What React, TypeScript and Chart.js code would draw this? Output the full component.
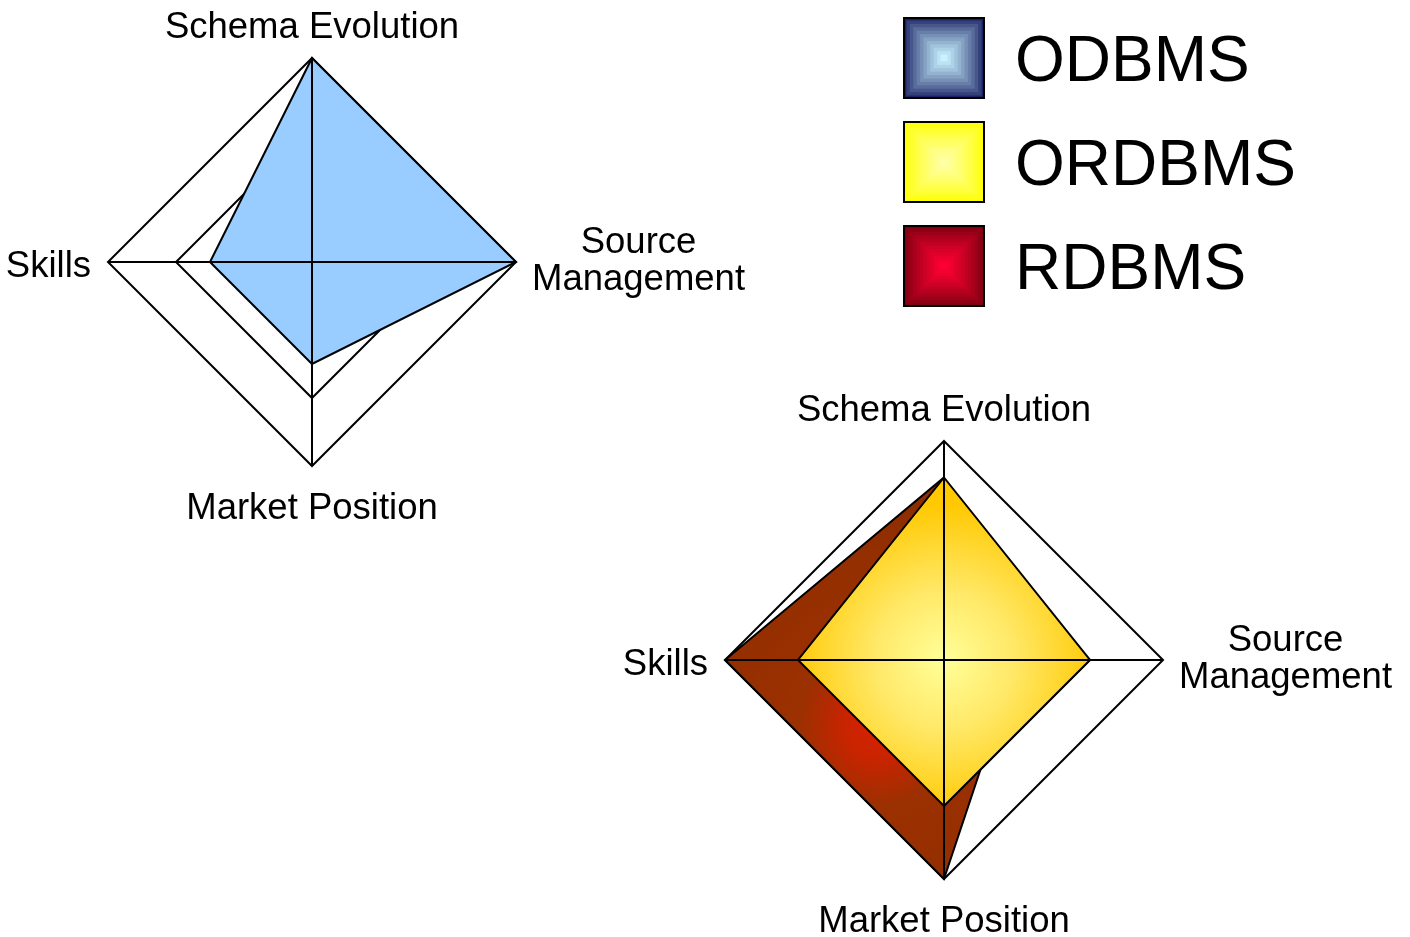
import React, { useEffect, useRef } from 'react';
import { Chart, registerables } from 'chart.js';

Chart.register(...registerables);

// ---- data ----
const categories: string[][] = [['Schema Evolution'], ['Source', 'Management'], ['Market Position'], ['Skills']];
const scaleMin = 0;
const scaleMax = 3;
const scaleStep = 1;
const odbmsValues = [3, 3, 1.5, 1.5];
const ordbmsValues = [2.5, 2, 2, 2];
const rdbmsValues = [2.5, 1, 3, 3];
const legendNames = ['ODBMS', 'ORDBMS', 'RDBMS'];
const legendOuterColors = ['#1b2163', '#ffff00', '#7c0010'];
const legendInnerColors = ['#c8f2ff', '#ffffa6', '#ff0033'];

const FONT = '"Liberation Sans", Arial, Helvetica, sans-serif';
const PAGE_W = 1410;
const PAGE_H = 937;

function hexToRgb(h: string) {
  const n = parseInt(h.slice(1), 16);
  return [(n >> 16) & 255, (n >> 8) & 255, n & 255];
}
function mix(a: string, b: string, t: number) {
  const A = hexToRgb(a), B = hexToRgb(b);
  const c = A.map((v, i) => Math.round(v + (B[i] - v) * t));
  return `rgb(${c[0]},${c[1]},${c[2]})`;
}

// angle lines on top of the data + centered point labels
const overlayPlugin = {
  id: 'overlay',
  afterDatasetsDraw(chart: any) {
    const s = chart.scales.r;
    const ctx = chart.ctx;
    const n = chart.data.labels.length;
    ctx.save();
    ctx.strokeStyle = '#000';
    ctx.lineWidth = 2;
    for (let i = 0; i < n; i++) {
      const p = s.getPointPosition(i, s.drawingArea);
      ctx.beginPath();
      ctx.moveTo(s.xCenter, s.yCenter);
      ctx.lineTo(p.x, p.y);
      ctx.stroke();
    }
    ctx.restore();
  },
  afterDraw(chart: any) {
    const s = chart.scales.r;
    const ctx = chart.ctx;
    const labels: string[][] = chart.data.labels;
    const lh = 37;
    ctx.save();
    ctx.fillStyle = '#000';
    ctx.font = `36.5px ${FONT}`;
    ctx.textBaseline = 'alphabetic';
    labels.forEach((lines, i) => {
      const p = s.getPointPosition(i, s.drawingArea);
      const cos = Math.cos(p.angle);
      const sin = Math.sin(p.angle);
      if (Math.abs(cos) < 0.01) {
        ctx.textAlign = 'center';
        const y0 = sin < 0 ? p.y - 20 - (lines.length - 1) * lh : p.y + 53;
        lines.forEach((t, k) => ctx.fillText(t, p.x, y0 + k * lh));
      } else if (cos > 0) {
        const w = Math.max(...lines.map((t) => ctx.measureText(t).width));
        ctx.textAlign = 'center';
        const cx = p.x + 16 + w / 2;
        const y0 = p.y - 9;
        lines.forEach((t, k) => ctx.fillText(t, cx, y0 + k * lh));
      } else {
        ctx.textAlign = 'right';
        const y0 = p.y + 15 - ((lines.length - 1) * lh) / 2;
        lines.forEach((t, k) => ctx.fillText(t, p.x - 17, y0 + k * lh));
      }
    });
    ctx.restore();
  },
};

const legendPlugin = {
  id: 'boxLegend',
  afterDraw(chart: any) {
    const ctx = chart.ctx;
    ctx.save();
    legendNames.forEach((name, k) => {
      const x0 = 903;
      const y0 = 17 + k * 104;
      const size = 82;
      const steps = 12;
      for (let st = 0; st < steps; st++) {
        const inset = (st * (size / 2)) / steps;
        ctx.fillStyle = mix(legendOuterColors[k], legendInnerColors[k], Math.pow(st / (steps - 1), 0.8));
        ctx.fillRect(x0 + inset, y0 + inset, size - 2 * inset, size - 2 * inset);
      }
      ctx.strokeStyle = '#000';
      ctx.lineWidth = 2;
      ctx.strokeRect(x0 + 1, y0 + 1, size - 2, size - 2);
      ctx.fillStyle = '#000';
      ctx.font = `64px ${FONT}`;
      ctx.textAlign = 'left';
      ctx.textBaseline = 'alphabetic';
      ctx.fillText(name, 1015, 81 + k * 104);
    });
    ctx.restore();
  },
};

function yellowFill(context: any) {
  const chart = context.chart;
  const s = chart.scales && chart.scales.r;
  if (!s || !s.drawingArea) return '#ffd633';
  const g = chart.ctx.createRadialGradient(s.xCenter, s.yCenter, 0, s.xCenter, s.yCenter, s.drawingArea * 0.72);
  g.addColorStop(0, '#ffff99');
  g.addColorStop(0.45, '#ffe866');
  g.addColorStop(1, '#ffc800');
  return g;
}

function redFill(context: any) {
  const chart = context.chart;
  const s = chart.scales && chart.scales.r;
  if (!s || !s.drawingArea) return '#993300';
  const a = s.getPointPositionForValue(2, ordbmsValues[2]);
  const b = s.getPointPositionForValue(3, ordbmsValues[3]);
  const cx = (a.x + b.x) / 2 + 8;
  const cy = (a.y + b.y) / 2 - 8;
  const g = chart.ctx.createRadialGradient(cx, cy, 0, cx, cy, 220);
  g.addColorStop(0, '#d82200');
  g.addColorStop(0.16, '#c82400');
  g.addColorStop(0.36, '#9c3000');
  g.addColorStop(1, '#8e2e00');
  return g;
}

function radarOptions(padding: any) {
  return {
    responsive: false,
    animation: false as const,
    layout: { padding },
    plugins: { legend: { display: false }, tooltip: { enabled: false } },
    elements: {
      line: { borderWidth: 2, borderColor: '#000', tension: 0, borderJoinStyle: 'miter' as const },
      point: { radius: 0, hoverRadius: 0 },
    },
    scales: {
      r: {
        min: scaleMin,
        max: scaleMax,
        ticks: { display: false, stepSize: scaleStep },
        grid: { color: '#000', lineWidth: 2 },
        angleLines: { display: false },
        pointLabels: { display: false },
      },
    },
  };
}

export default function App() {
  const ref1 = useRef<HTMLCanvasElement>(null);
  const ref2 = useRef<HTMLCanvasElement>(null);

  useEffect(() => {
    const c1 = new Chart(ref1.current as HTMLCanvasElement, {
      type: 'radar',
      data: {
        labels: categories,
        datasets: [
          { label: 'ODBMS', data: odbmsValues, backgroundColor: '#99ccff', fill: true },
        ],
      },
      options: radarOptions({ left: 108, top: 58, right: PAGE_W - 516, bottom: PAGE_H - 466 }) as any,
      plugins: [overlayPlugin],
    });
    const c2 = new Chart(ref2.current as HTMLCanvasElement, {
      type: 'radar',
      data: {
        labels: categories,
        datasets: [
          { label: 'ORDBMS', data: ordbmsValues, backgroundColor: yellowFill, fill: true },
          { label: 'RDBMS', data: rdbmsValues, backgroundColor: redFill, fill: true },
        ],
      },
      options: radarOptions({ left: 725, top: 441, right: PAGE_W - 1164, bottom: PAGE_H - 880 }) as any,
      plugins: [overlayPlugin, legendPlugin],
    });
    return () => {
      c1.destroy();
      c2.destroy();
    };
  }, []);

  const style: React.CSSProperties = { position: 'absolute', left: 0, top: 0, width: PAGE_W, height: PAGE_H };
  return (
    <div style={{ position: 'absolute', left: 0, top: 0, width: PAGE_W, height: PAGE_H, background: '#fff' }}>
      <canvas ref={ref1} width={PAGE_W} height={PAGE_H} style={style} />
      <canvas ref={ref2} width={PAGE_W} height={PAGE_H} style={style} />
    </div>
  );
}
